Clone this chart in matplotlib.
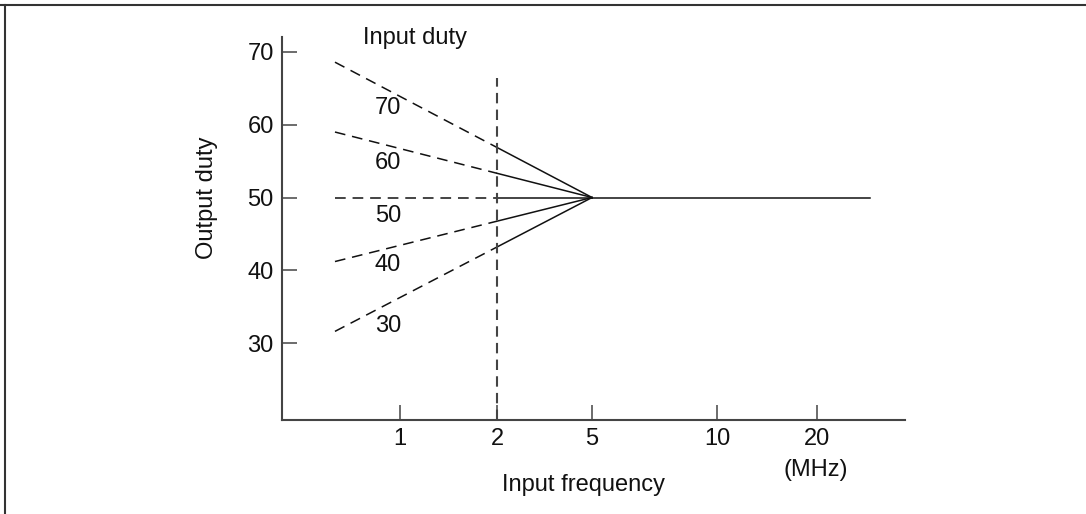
import matplotlib
matplotlib.use('Agg')
import matplotlib.pyplot as plt
from matplotlib.lines import Line2D
import numpy as np

plt.rcParams['font.family'] = ['Liberation Sans', 'DejaVu Sans']

# x axis is not to scale: positions for the labelled frequencies
freq_labels = ['1', '2', '5', '10', '20']
freq_pos = [1.0, 2.0, 2.98, 4.27, 5.30]

# input duty curves: output duty at the low-frequency start
duty_names = ['70', '60', '50', '40', '30']
duty_start = [68.6, 59.0, 50.0, 41.2, 31.6]
x_start = 0.33
x_cut = 2.0      # dashed below 2 MHz
x_merge = 2.98   # all converge at 5 MHz
x_end = 5.85
y_merge = 50.0

# label positions for the duty numbers
label_y = [62.3, 54.7, 47.5, 40.7, 32.3]
label_x = 0.876

ink = '#111111'
axis_col = '#444444'
fs = 17

fig = plt.figure(figsize=(10.86, 5.14), dpi=100)
ax = fig.add_axes([282 / 1086, 1 - 420 / 514, (905 - 282) / 1086, (420 - 37) / 514])

for i in range(len(duty_start)):
    xs = [x_start, x_merge]
    ys = [duty_start[i], y_merge]
    y_cut = np.interp(x_cut, xs, ys)
    ax.plot([x_start, x_cut], [duty_start[i], y_cut], color=ink, lw=1.1,
            linestyle=(0, (7, 4.5)))
    ax.plot([x_cut, x_merge], [y_cut, y_merge], color=ink, lw=1.1)
    ax.text(label_x, label_y[i], duty_names[i], fontsize=fs, ha='center',
            va='center', color=ink)

ax.plot([x_merge, x_end], [y_merge, y_merge], color=ink, lw=1.1)

# 2 MHz boundary
ax.plot([x_cut, x_cut], [19.4, 66.4], color=axis_col, lw=1.5,
        linestyle=(0, (5, 3)), clip_on=False)

ax.text(1.155, 71.9, 'Input duty', fontsize=fs, ha='center', va='center',
        color=ink, clip_on=False)

ax.set_xlim(-0.216, 6.206)
ax.set_ylim(19.42, 72.06)
ax.set_xticks(freq_pos)
ax.set_xticklabels(freq_labels)
ax.set_yticks([30, 40, 50, 60, 70])

for side in ['top', 'right']:
    ax.spines[side].set_visible(False)
for side in ['left', 'bottom']:
    ax.spines[side].set_color(axis_col)
    ax.spines[side].set_linewidth(1.5)

ax.tick_params(axis='both', direction='in', length=11, width=1.1,
               colors=axis_col, labelcolor=ink, labelsize=fs)
ax.tick_params(axis='y', pad=6)
ax.tick_params(axis='x', pad=6)

fig.text(207 / 1086, 1 - 198 / 514, 'Output duty', rotation=90, fontsize=fs,
         ha='center', va='center', color=ink)
fig.text(583 / 1086, 1 - 485 / 514, 'Input frequency', fontsize=fs,
         ha='center', va='center', color=ink)
fig.text(816 / 1086, 1 - 470 / 514, '(MHz)', fontsize=fs,
         ha='center', va='center', color=ink)

# frame lines along the top and left edge
fig.add_artist(Line2D([0, 1], [1 - 5 / 514, 1 - 5 / 514], color='#333333', lw=1.5))
fig.add_artist(Line2D([4.5 / 1086, 4.5 / 1086], [0, 1 - 5 / 514], color='#333333', lw=1.5))

fig.savefig('out.png', dpi=100)
